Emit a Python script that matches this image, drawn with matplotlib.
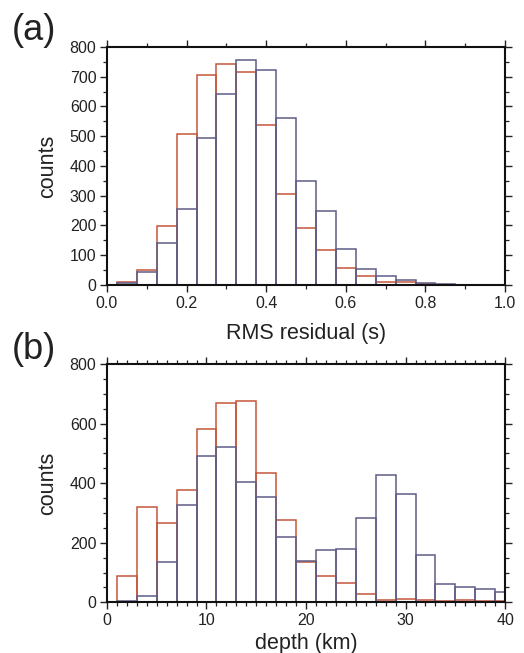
import matplotlib
matplotlib.use('Agg')
import matplotlib.pyplot as plt
from matplotlib.ticker import MultipleLocator

plt.rcParams['font.family'] = ['Liberation Sans', 'DejaVu Sans']

red = '#c4563b'
purple = '#5f5d88'

# RMS residual histogram, bins 0.05 wide
rms_centers = [0.05, 0.10, 0.15, 0.20, 0.25, 0.30, 0.35, 0.40, 0.45, 0.50,
               0.55, 0.60, 0.65, 0.70, 0.75, 0.80, 0.85, 0.90, 0.95, 1.00]
rms_red = [9, 50, 198, 506, 706, 742, 716, 539, 307, 193,
           118, 57, 29, 9, 9, 3, 1, 0, 0, 0]
rms_purple = [5, 45, 140, 254, 495, 643, 755, 722, 562, 350,
              250, 120, 54, 29, 17, 8, 4, 0, 0, 0]

# depth histogram, bins 2 km wide
depth_centers = [2, 4, 6, 8, 10, 12, 14, 16, 18, 20,
                 22, 24, 26, 28, 30, 32, 34, 36, 38, 40]
depth_red = [89, 321, 267, 377, 581, 670, 677, 434, 276, 136,
             89, 66, 28, 9, 12, 7, 6, 9, 6, 5]
depth_purple = [5, 22, 134, 327, 490, 521, 403, 355, 218, 140,
                177, 180, 282, 428, 365, 160, 60, 51, 45, 36]

fig = plt.figure(figsize=(5.24, 6.53), dpi=100)
ax1 = fig.add_axes([0.204, 0.5636, 0.760, 0.3645])
ax2 = fig.add_axes([0.204, 0.0776, 0.760, 0.3650])


def style(ax, xmaj, xmin, ymaj, ymin):
    ax.xaxis.set_major_locator(MultipleLocator(xmaj))
    ax.xaxis.set_minor_locator(MultipleLocator(xmin))
    ax.yaxis.set_major_locator(MultipleLocator(ymaj))
    ax.yaxis.set_minor_locator(MultipleLocator(ymin))
    ax.tick_params(which='both', direction='out', top=True, right=True,
                   labelsize=11.5, color='#222222', labelcolor='#222222')
    ax.tick_params(which='major', length=5, width=1.0)
    ax.tick_params(which='minor', length=2.8, width=0.9)
    ax.tick_params(axis='x', pad=3)
    ax.tick_params(axis='y', pad=2.5)
    for s in ax.spines.values():
        s.set_linewidth(1.5)
        s.set_color('#111111')
        s.set_zorder(5)
    ax.set_ylim(0, 800)
    ax.set_ylabel('counts', fontsize=15.5, color='#222222')
    ax.yaxis.set_label_coords(-0.122, 0.5)


ax1.bar(rms_centers, rms_red, width=0.05, fill=False, edgecolor=red, linewidth=1.1)
ax1.bar(rms_centers, rms_purple, width=0.05, fill=False, edgecolor=purple, linewidth=1.1)
ax1.set_xlim(0, 1.0)
style(ax1, 0.2, 0.1, 100, 50)
ax1.set_xticklabels([f'{v:.1f}' for v in ax1.get_xticks()])
ax1.set_xlabel('RMS residual (s)', fontsize=15.5, color='#222222')
ax1.xaxis.set_label_coords(0.5, -0.158)

ax2.bar(depth_centers, depth_red, width=2, fill=False, edgecolor=red, linewidth=1.1)
ax2.bar(depth_centers, depth_purple, width=2, fill=False, edgecolor=purple, linewidth=1.1)
ax2.set_xlim(0, 40)
style(ax2, 10, 1, 200, 50)
ax2.set_xlabel('depth (km)', fontsize=15.5, color='#222222')
ax2.xaxis.set_label_coords(0.5, -0.128)

fig.text(0.022, 0.954, '(a)', fontsize=26, va='center', ha='left', color='#222222')
fig.text(0.022, 0.4655, '(b)', fontsize=26, va='center', ha='left', color='#222222')

fig.savefig('out.png', dpi=100)
